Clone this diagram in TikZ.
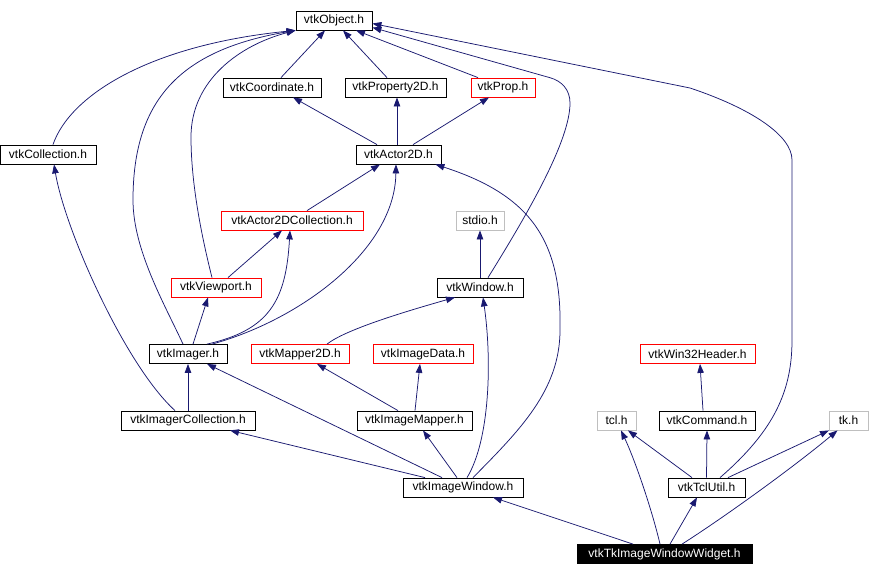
\documentclass[tikz,border=0pt]{standalone}
\usepackage{fontspec}
\setmainfont{Liberation Sans}
\usetikzlibrary{arrows.meta}

\definecolor{edgeblue}{HTML}{191970}
\definecolor{sysgray}{HTML}{BFBFBF}

\tikzset{
    hdr/.style={draw=black, fill=white, line width=0.8pt, inner sep=0pt,
        minimum height=19pt, font=\fontsize{12}{14}\selectfont},
    redhdr/.style={hdr, draw=red},
    syshdr/.style={hdr, draw=sysgray},
    curhdr/.style={hdr, fill=black, text=white},
    inc/.style={draw=edgeblue, line width=0.75pt,
        -{Triangle[length=9pt,width=6.5pt]}},
}

\begin{document}
\begin{tikzpicture}[x=1pt, y=-1pt]
    \useasboundingbox (0,0) rectangle (869,576);

    % headers, top to bottom
    \node[hdr, minimum width=76pt] (obj) at (334,20.5) {vtkObject.h};
    \node[hdr, minimum width=98pt] (coord) at (272,87.5) {vtkCoordinate.h};
    \node[hdr, minimum width=101pt] (prop2d) at (395.5,87.5) {vtkProperty2D.h};
    \node[redhdr, minimum width=64pt] (prop) at (503,87.5) {vtkProp.h};
    \node[hdr, minimum width=96pt] (coll) at (48,154.5) {vtkCollection.h};
    \node[hdr, minimum width=85pt] (actor) at (398.5,154.5) {vtkActor2D.h};
    \node[redhdr, minimum width=142pt] (a2dc) at (292,220.5) {vtkActor2DCollection.h};
    \node[syshdr, minimum width=48pt] (stdio) at (480,220.5) {stdio.h};
    \node[redhdr, minimum width=90pt] (viewport) at (216,287.5) {vtkViewport.h};
    \node[hdr, minimum width=86pt] (window) at (480,287.5) {vtkWindow.h};
    \node[hdr, minimum width=78pt] (imager) at (188,354) {vtkImager.h};
    \node[redhdr, minimum width=98pt] (mapper2d) at (300,354) {vtkMapper2D.h};
    \node[redhdr, minimum width=100pt] (imgdata) at (423,354) {vtkImageData.h};
    \node[redhdr, minimum width=115pt] (win32) at (697.5,354) {vtkWin32Header.h};
    \node[hdr, minimum width=134pt] (imgcoll) at (188,420.5) {vtkImagerCollection.h};
    \node[hdr, minimum width=115pt] (imgmapper) at (414.5,420.5) {vtkImageMapper.h};
    \node[syshdr, minimum width=39pt] (tcl) at (616.5,420.5) {tcl.h};
    \node[hdr, minimum width=96pt] (command) at (707,420.5) {vtkCommand.h};
    \node[syshdr, minimum width=39pt] (tk) at (848.5,420.5) {tk.h};
    \node[hdr, minimum width=120pt] (imgwin) at (463,487.5) {vtkImageWindow.h};
    \node[hdr, minimum width=77pt] (tclutil) at (706.5,487.5) {vtkTclUtil.h};
    \node[curhdr, minimum width=175pt] (widget) at (664.5,554) {vtkTkImageWindowWidget.h};

    % includes of vtkObject.h
    \draw[inc] ([xshift=9pt]coord.north) -- ([xshift=-9pt]obj.south);
    \draw[inc] ([xshift=-8.5pt]prop2d.north) -- ([xshift=9pt]obj.south);
    \draw[inc] ([xshift=-25pt]prop.north) -- ([xshift=22pt]obj.south);
    \draw[inc] ([xshift=5pt]coll.north) .. controls (70,95) and (150,45) .. (obj.south west);
    \draw[inc] ([xshift=-5pt]imager.north) .. controls (165,305) and (133,250) .. (133,200)
        .. controls (133,100) and (180,50) .. (obj.south west);
    \draw[inc] ([xshift=-4pt]viewport.north) .. controls (200,230) and (191,180) .. (191,137)
        .. controls (191,80) and (240,45) .. (obj.south west);
    \draw[inc] ([xshift=8pt]window.north) .. controls (530,210) and (570,140) .. (570,103)
        .. controls (570,90) and (562,81) .. (550,77.7) -- ([yshift=-7pt]obj.east);
    \draw[inc] ([xshift=13.5pt]tclutil.north) .. controls (775,430) and (792,390) .. (792,340)
        -- (792,160) .. controls (792,135) and (750,108) .. (690,88) -- ([yshift=-3pt]obj.east);

    % vtkActor2D.h and its users
    \draw[inc] ([xshift=-21.5pt]actor.north) -- ([xshift=21pt]coord.south);
    \draw[inc] ([xshift=-1.5pt]actor.north) -- ([xshift=1.5pt]prop2d.south);
    \draw[inc] ([xshift=14.5pt]actor.north) -- ([xshift=-14pt]prop.south);
    \draw[inc] ([xshift=15pt]a2dc.north) -- ([xshift=-18.5pt]actor.south);
    \draw[inc] ([xshift=24pt]imager.north) .. controls (300,320) and (395,250) .. ([xshift=-2.5pt]actor.south);
    \draw[inc] ([xshift=10pt]imgwin.north) .. controls (520,430) and (560,390) .. (560,330)
        .. controls (562,240) and (530,195) .. ([xshift=-6pt]actor.south east);

    % viewport and imager
    \draw[inc] ([xshift=12pt]viewport.north) -- ([xshift=-10pt]a2dc.south);
    \draw[inc] ([xshift=19pt]imager.north) .. controls (270,330) and (286,300) .. ([xshift=-2pt]a2dc.south);
    \draw[inc] ([xshift=5pt]imager.north) -- ([xshift=-8pt]viewport.south);

    % window
    \draw[inc] (window.north) -- (stdio.south);
    \draw[inc] ([xshift=27pt]mapper2d.north) .. controls (345,330) and (400,313) .. ([xshift=-25pt]window.south);
    \draw[inc] ([xshift=4pt]imgwin.north) .. controls (490,440) and (492,360) .. ([xshift=3pt]window.south);

    % collections, mappers
    \draw[inc] ([xshift=-13pt]imgcoll.north) .. controls (125,365) and (65,230) .. ([xshift=6pt]coll.south);
    \draw[inc] (imgcoll.north) -- (imager.south);
    \draw[inc] ([xshift=-21pt]imgwin.north) -- ([xshift=19pt]imager.south);
    \draw[inc] ([xshift=-16.5pt]imgmapper.north) -- ([xshift=17pt]mapper2d.south);
    \draw[inc] ([xshift=0.5pt]imgmapper.north) -- ([xshift=-3pt]imgdata.south);
    \draw[inc] ([xshift=-38pt]imgwin.north) -- ([xshift=42pt]imgcoll.south);
    \draw[inc] ([xshift=-6pt]imgwin.north) -- ([xshift=8.5pt]imgmapper.south);

    % tcl side
    \draw[inc] ([xshift=-4pt]command.north) -- ([xshift=2.5pt]win32.south);
    \draw[inc] (tclutil.north) -- (command.south);
    \draw[inc] ([xshift=-14.5pt]tclutil.north) -- ([xshift=11.5pt]tcl.south);
    \draw[inc] ([xshift=21.5pt]tclutil.north) -- ([xshift=-19.5pt]tk.south);

    % vtkTkImageWindowWidget.h
    \draw[inc] ([xshift=-31.5pt]widget.north) -- ([xshift=30pt]imgwin.south);
    \draw[inc] ([xshift=-4.5pt]widget.north) .. controls (652,510) and (635,460) .. ([xshift=4.5pt]tcl.south);
    \draw[inc] ([xshift=5.5pt]widget.north) -- ([xshift=-9.5pt]tclutil.south);
    \draw[inc] ([xshift=17.5pt]widget.north) .. controls (720,520) and (790,470) .. ([xshift=-11pt]tk.south);
\end{tikzpicture}
\end{document}
